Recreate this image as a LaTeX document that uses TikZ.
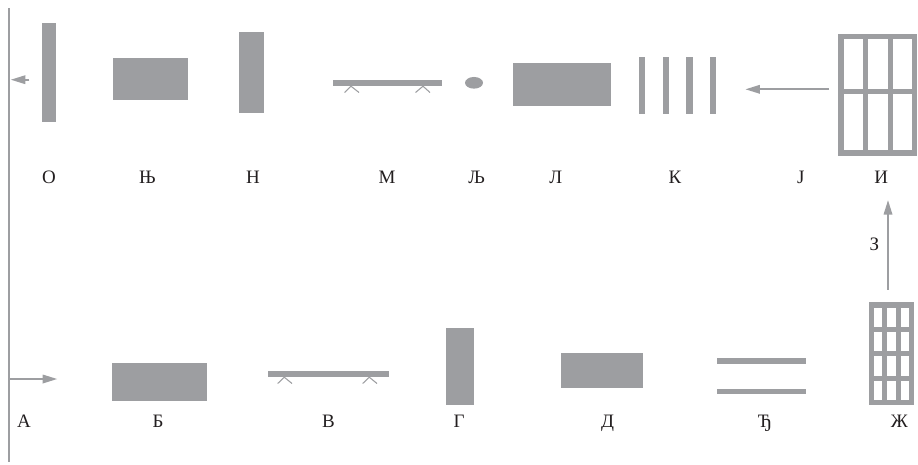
\documentclass[tikz,border=0pt]{standalone}
\usepackage{fontspec}
\setmainfont{Liberation Serif}
\usepackage{tikz}
\usetikzlibrary{arrows.meta,shapes.geometric}
\usepackage{xcolor}
\definecolor{plategray}{RGB}{157,158,161}
\definecolor{taginkcolor}{RGB}{35,31,32}

\begin{document}
\begin{tikzpicture}[
  x=0.02cm, y=-0.02cm,
  tag/.style={font=\fontsize{10.8}{12}\selectfont, text=taginkcolor, anchor=base, inner sep=0pt},
  plate/.style 2 args={fill=plategray, inner sep=0pt, outer sep=0pt,
    minimum width=#1*0.02cm, minimum height=#2*0.02cm},
  pane/.style 2 args={fill=white, inner sep=0pt, outer sep=0pt,
    minimum width=#1*0.02cm, minimum height=#2*0.02cm},
  arr/.style={-{Triangle[length=8.3pt,width=4.8pt]}, draw=plategray, line width=1.1pt},
  hook/.style={draw=plategray, line width=0.6pt},
]
\useasboundingbox (0,0) rectangle (918,464);

% wall on the left
\coordinate (walltop) at (9,8);
\coordinate (wallend) at (9,462);
\draw[plategray, line width=1.15pt] (walltop) -- (wallend);

% upper row
\node[plate={13.5}{99}]   at (48.9, 72.5)  (slabO)  {};
\node[plate={75}{42}]     at (150, 79)     (slabNj) {};
\node[plate={25}{81}]     at (251.5, 72.5) (slabN)  {};
\node[plate={109}{6}]     at (387.5, 83)   (slabM)  {};
\node[plate={18}{11.7}, ellipse] at (474, 82.8) (dotLj) {};
\node[plate={98.3}{43}]   at (561.9, 84.8) (slabL)  {};
\node[plate={6.3}{56.7}]  at (642.2, 85.3) (barKa)  {};
\node[plate={6.3}{56.7}]  at (665.9, 85.3) (barKb)  {};
\node[plate={6.3}{56.7}]  at (689.5, 85.3) (barKc)  {};
\node[plate={6.3}{56.7}]  at (713.2, 85.3) (barKd)  {};

\node[plate={79}{121.7}]  at (877.8, 94.85) (frameI) {};
\node[pane={19.2}{49.5}]  at (853.2, 64)    (paneIa) {};
\node[pane={19.2}{49.5}]  at (877.9, 64)    (paneIb) {};
\node[pane={19.2}{49.5}]  at (902.5, 64)    (paneIc) {};
\node[pane={19.2}{56.2}]  at (853.2, 122.3) (paneId) {};
\node[pane={19.2}{56.2}]  at (877.9, 122.3) (paneIe) {};
\node[pane={19.2}{56.2}]  at (902.5, 122.3) (paneIf) {};

% lower row
\node[plate={95}{37.7}]   at (159.8, 381.9) (slabB)  {};
\node[plate={121}{6}]     at (328.5, 374)   (slabV)  {};
\node[plate={27.4}{76.7}] at (460, 366.7)   (slabG)  {};
\node[plate={82.3}{35.3}] at (601.9, 370.7) (slabD)  {};
\node[plate={89.3}{5.4}]  at (761.7, 361)   (barDja) {};
\node[plate={89.3}{5}]    at (761.7, 391.5) (barDjb) {};

\node[plate={45}{102.7}]  at (891.5, 353.7) (frameZh) {};
\node[pane={8}{19.3}]     at (878, 317.3)   (paneZa) {};
\node[pane={8.4}{19.3}]   at (891.5, 317.3) (paneZb) {};
\node[pane={8.3}{19.3}]   at (904.9, 317.3) (paneZc) {};
\node[pane={8}{19.3}]     at (878, 341.7)   (paneZd) {};
\node[pane={8.4}{19.3}]   at (891.5, 341.7) (paneZe) {};
\node[pane={8.3}{19.3}]   at (904.9, 341.7) (paneZf) {};
\node[pane={8}{19.3}]     at (878, 366)     (paneZg) {};
\node[pane={8.4}{19.3}]   at (891.5, 366)   (paneZh) {};
\node[pane={8.3}{19.3}]   at (904.9, 366)   (paneZi) {};
\node[pane={8}{19.3}]     at (878, 390.3)   (paneZj) {};
\node[pane={8.4}{19.3}]   at (891.5, 390.3) (paneZk) {};
\node[pane={8.3}{19.3}]   at (904.9, 390.3) (paneZl) {};

% hooks under the two thin slabs
\draw[hook] (344.5,92.5) -- (351,86.2) -- (359,92.5);
\draw[hook] (415.5,92.5) -- (423,86.2) -- (430,92.5);
\draw[hook] (277.7,383.5) -- (284.3,377.2) -- (292,383.5);
\draw[hook] (362.7,383.5) -- (369.3,377.2) -- (377,383.5);

% labels
\node[tag] at (49, 183.3)    (tagO)  {О};
\node[tag] at (147.5, 183.3) (tagNj) {Њ};
\node[tag] at (253, 183.3)   (tagN)  {Н};
\node[tag] at (387, 183.3)   (tagM)  {М};
\node[tag] at (476.7, 183.3) (tagLj) {Љ};
\node[tag] at (555.7, 183.3) (tagL)  {Л};
\node[tag] at (675, 183.3)   (tagK)  {К};
\node[tag] at (800.7, 183.3) (tagJ)  {Ј};
\node[tag] at (881.3, 183.3) (tagI)  {И};
\node[tag] at (874.3, 250)   (tagZe) {З};
\node[tag] at (24, 427.7)    (tagA)  {А};
\node[tag] at (158, 427.7)   (tagB)  {Б};
\node[tag] at (328.5, 427.7) (tagV)  {В};
\node[tag] at (459, 427.7)   (tagG)  {Г};
\node[tag] at (607.7, 427.7) (tagD)  {Д};
\node[tag] at (765, 427.7)   (tagDj) {Ђ};
\node[tag] at (899.3, 427.7) (tagZh) {Ж};

% arrows
\coordinate (inflow)   at (9,379);
\coordinate (inhead)   at (57.3,379);
\coordinate (outfoot)  at (29.3,79.7);
\coordinate (outhead)  at (10.7,79.7);
\coordinate (upfoot)   at (888,289.7);
\coordinate (uphead)   at (888,200);
\coordinate (backfoot) at (829,89.3);
\coordinate (backhead) at (745.3,89.3);
\draw[arr] (inflow)   -- (inhead);
\draw[arr] (outfoot)  -- (outhead);
\draw[arr] (upfoot)   -- (uphead);
\draw[arr] (backfoot) -- (backhead);
\end{tikzpicture}
\end{document}
